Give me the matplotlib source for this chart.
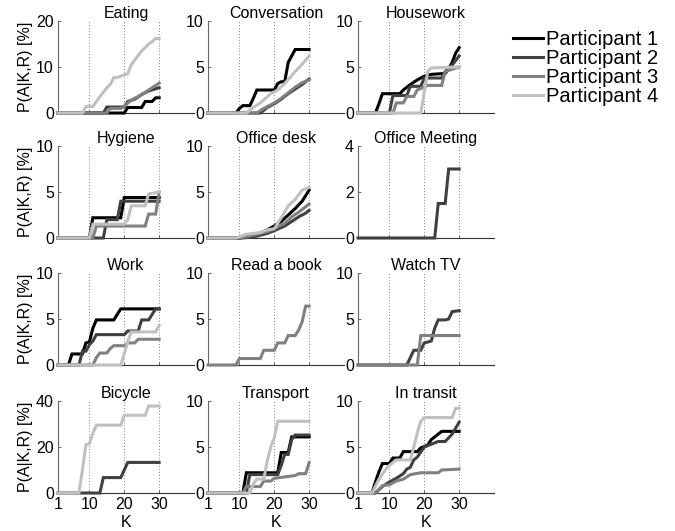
import matplotlib
matplotlib.use("Agg")
import matplotlib.pyplot as plt

plt.rcParams['font.family'] = ['Liberation Sans', 'DejaVu Sans']

participants = ["Participant 1", "Participant 2", "Participant 3", "Participant 4"]
colors = ["#000000", "#404040", "#808080", "#c0c0c0"]

titles = ["Eating", "Conversation", "Housework",
          "Hygiene", "Office desk", "Office Meeting",
          "Work", "Read a book", "Watch TV",
          "Bicycle", "Transport", "In transit"]
ymax = [20, 10, 10, 10, 10, 4, 10, 10, 10, 40, 10, 10]
xticks = [1, 10, 20, 30]

# Each series: (K vertices, P(A|K,R) values in %)
eating = {
    1: ([1, 20, 21, 25, 26, 28, 29, 30], [0, 0, 1.2, 1.2, 2.5, 2.5, 3.3, 3.3]),
    2: ([1, 14, 15, 20, 21, 23, 25, 27, 30], [0, 0, 1.3, 1.3, 2.5, 3.0, 4.0, 4.8, 5.5]),
    3: ([1, 15, 16, 19, 20, 22, 24, 26, 28, 30], [0, 0, 1.0, 1.0, 1.5, 2.8, 3.6, 4.5, 5.5, 6.5]),
    4: ([1, 8, 9, 11, 12, 13, 14, 15, 16, 17, 18, 19, 20, 21, 22, 23, 24, 25, 26, 27, 28, 29, 30],
        [0, 0, 1.4, 1.4, 2.5, 3.5, 4.5, 5.5, 6.2, 7.7, 7.7, 8.0, 8.3, 8.5, 10.5, 11.5, 12.5, 13.5, 14.2, 15.0, 15.5, 16.2, 16.2]),
}
conversation = {
    1: ([1, 9, 10, 11, 13, 14, 15, 20, 21, 22, 23, 24, 25, 26, 30],
        [0, 0, 0.5, 0.8, 0.8, 1.6, 2.5, 2.5, 3.2, 3.4, 3.4, 5.5, 6.2, 6.9, 6.9]),
    2: ([1, 16, 18, 20, 22, 24, 26, 28, 30], [0, 0, 0.6, 1.0, 1.5, 2.1, 2.6, 3.1, 3.7]),
    3: ([1, 15, 17, 20, 22, 24, 26, 28, 30], [0, 0, 0.5, 1.1, 1.6, 2.2, 2.8, 3.3, 3.6]),
    4: ([1, 12, 14, 16, 19, 21, 23, 26, 28, 30], [0, 0, 0.6, 1.1, 2.1, 2.5, 3.2, 4.5, 5.3, 6.2]),
}
housework = {
    1: ([1, 6, 7, 8, 13, 14, 16, 18, 20, 22, 26, 27, 28, 29, 30],
        [0, 0, 1.0, 2.1, 2.1, 2.5, 3.1, 3.6, 4.0, 4.2, 4.3, 4.8, 5.5, 6.5, 7.1]),
    2: ([1, 10, 11, 15, 16, 19, 20, 25, 26, 28, 30], [0, 0, 1.9, 1.9, 2.9, 2.9, 3.8, 3.8, 4.5, 5.2, 6.2]),
    3: ([1, 11, 12, 14, 15, 17, 18, 21, 25, 26, 30], [0, 0, 1.1, 1.1, 1.8, 1.8, 2.5, 3.0, 3.0, 4.5, 5.0]),
    4: ([1, 19, 21, 22, 30], [0, 0, 4.5, 4.9, 5.0]),
}
hygiene = {
    1: ([1, 10, 11, 19, 20, 30], [0, 0, 2.2, 2.2, 4.4, 4.4]),
    2: ([1, 14, 15, 18, 19, 30], [0, 0, 2.0, 2.0, 4.0, 4.0]),
    3: ([1, 11, 12, 26, 27, 29, 30], [0, 0, 1.3, 1.3, 2.6, 2.6, 5.0]),
    4: ([1, 10, 11, 20, 21, 22, 26, 27, 30], [0, 0, 1.5, 1.5, 2.0, 3.5, 3.5, 4.8, 5.0]),
}
office_desk = {
    1: ([1, 10, 14, 17, 20, 22, 24, 26, 28, 30], [0, 0, 0.3, 0.7, 1.3, 1.8, 2.5, 3.2, 4.0, 5.2]),
    2: ([1, 11, 15, 18, 20, 23, 25, 27, 29, 30], [0, 0, 0.2, 0.5, 0.8, 1.3, 1.8, 2.3, 2.7, 3.0]),
    3: ([1, 10, 14, 18, 20, 23, 25, 27, 29, 30], [0, 0, 0.3, 0.7, 1.0, 1.6, 2.3, 2.8, 3.4, 3.7]),
    4: ([1, 9, 12, 16, 18, 20, 22, 24, 26, 28, 30], [0, 0, 0.4, 0.6, 0.9, 1.0, 2.2, 3.5, 4.2, 5.2, 5.5]),
}
office_meeting = {
    2: ([1, 23, 24, 26, 27, 30], [0, 0, 1.5, 1.5, 3.0, 3.0]),
}
work = {
    1: ([1, 4, 5, 8, 9, 10, 11, 12, 17, 18, 19, 30], [0, 0, 1.2, 1.2, 2.4, 2.5, 4.0, 4.9, 4.9, 5.5, 6.1, 6.1]),
    2: ([1, 7, 8, 9, 10, 11, 12, 20, 21, 24, 25, 27, 28, 29, 30],
        [0, 0, 1.5, 1.5, 2.2, 2.6, 3.3, 3.3, 3.7, 3.7, 4.9, 4.9, 5.5, 6.1, 6.1]),
    3: ([1, 11, 12, 13, 15, 16, 17, 20, 21, 23, 24, 30], [0, 0, 0.8, 1.3, 1.3, 1.8, 2.1, 2.1, 2.4, 2.4, 2.8, 2.8]),
    4: ([1, 19, 20, 21, 22, 29, 30], [0, 0, 1.2, 2.5, 3.6, 3.6, 4.3]),
}
read_book = {
    3: ([1, 9, 10, 16, 17, 20, 21, 23, 24, 26, 27, 28, 29, 30],
        [0, 0, 0.7, 0.7, 1.6, 1.6, 2.4, 2.4, 3.2, 3.2, 3.8, 4.7, 6.4, 6.4]),
}
watch_tv = {
    2: ([1, 15, 17, 19, 20, 22, 23, 24, 26, 27, 28, 30], [0, 0, 1.6, 1.6, 2.4, 2.6, 4.0, 4.9, 4.9, 5.0, 5.8, 5.9]),
    3: ([1, 18, 19, 30], [0, 0, 3.2, 3.2]),
}
bicycle = {
    2: ([1, 13, 14, 19, 21, 30], [0, 0, 6.7, 6.7, 13.3, 13.3]),
    4: ([1, 7, 8, 9, 10, 11, 12, 19, 20, 26, 27, 30], [0, 0, 10, 21, 21.5, 26, 29.5, 29.5, 33.8, 33.8, 37.8, 37.8]),
}
transport = {
    1: ([1, 11, 12, 21, 22, 24, 25, 30], [0, 0, 2.2, 2.2, 4.4, 4.4, 6.1, 6.1]),
    2: ([1, 12, 13, 21, 22, 23, 24, 25, 26, 30], [0, 0, 2.0, 2.0, 3.0, 4.2, 4.2, 5.8, 6.3, 6.3]),
    3: ([1, 11, 12, 16, 17, 19, 20, 26, 27, 29, 30], [0, 0, 0.7, 0.7, 1.3, 1.3, 1.6, 1.9, 2.1, 2.1, 3.3]),
    4: ([1, 13, 14, 15, 17, 18, 19, 20, 21, 30], [0, 0, 1.0, 1.5, 1.5, 3.5, 5.0, 6.0, 7.8, 7.8]),
}
in_transit = {
    1: ([1, 5, 6, 7, 8, 10, 11, 13, 14, 18, 19, 21, 22, 24, 25, 30],
        [0, 0, 1.2, 2.3, 3.2, 3.2, 3.8, 3.8, 4.5, 4.5, 4.9, 5.2, 5.8, 6.4, 6.7, 6.7]),
    2: ([1, 6, 8, 10, 12, 14, 15, 16, 17, 18, 20, 22, 24, 26, 28, 30],
        [0, 0, 0.7, 1.2, 1.6, 2.1, 2.6, 2.8, 3.6, 3.9, 5.0, 5.3, 5.6, 5.6, 6.4, 7.7]),
    3: ([1, 6, 8, 10, 12, 14, 16, 19, 24, 25, 30], [0, 0, 0.8, 0.9, 1.3, 1.5, 2.0, 2.2, 2.2, 2.5, 2.6]),
    4: ([1, 5, 7, 9, 10, 12, 16, 17, 18, 19, 20, 28, 29, 30],
        [0, 0, 1.5, 2.6, 3.0, 3.6, 3.6, 5.0, 6.5, 7.8, 8.2, 8.2, 9.2, 9.2]),
}

panels = [eating, conversation, housework, hygiene, office_desk, office_meeting,
          work, read_book, watch_tv, bicycle, transport, in_transit]

W, H = 675, 531
fig = plt.figure(figsize=(W / 100, H / 100), dpi=100)

col_left = [58, 208, 358]
row_bottom = [113, 238, 365, 493]
ax_w, ax_h = 136, 92

handles = {}
for i, (title, data, ym) in enumerate(zip(titles, panels, ymax)):
    r, c = divmod(i, 3)
    ax = fig.add_axes([col_left[c] / W, 1 - row_bottom[r] / H, ax_w / W, ax_h / H])
    for p in (1, 2, 3, 4):
        if p in data:
            k, v = data[p]
            ln, = ax.plot(k, v, color=colors[p - 1], lw=2.2, solid_joinstyle='miter',
                          label=participants[p - 1], clip_on=False, zorder=2 + p)
            handles.setdefault(p, ln)
    ax.set_xlim(1, 40)
    ax.set_ylim(0, ym)
    ax.set_xticks(xticks)
    ax.set_yticks([0, ym / 2, ym])
    ax.set_yticklabels([f"{t:g}" for t in [0, ym / 2, ym]])
    ax.xaxis.grid(True, linestyle=(0, (1, 2.5)), color='#555555', lw=0.6)
    ax.set_axisbelow(True)
    for s in ('top', 'right'):
        ax.spines[s].set_visible(False)
    ax.spines['left'].set_color('#666666')
    ax.spines['bottom'].set_color('#333333')
    ax.spines['left'].set_linewidth(0.8)
    ax.spines['bottom'].set_linewidth(0.8)
    ax.tick_params(direction='in', length=2, width=0.5, labelsize=11.5, pad=3,
                   colors='#333333', labelcolor='black')
    if r < 3:
        ax.tick_params(axis='x', labelbottom=False)
    else:
        ax.set_xlabel("K", fontsize=11.5, labelpad=2)
    if c == 0:
        ax.set_ylabel("P(A|K,R) [%]", fontsize=11.5, labelpad=2)
    ax.set_title(title, fontsize=11.5, pad=1)

leg = fig.legend([handles[p] for p in (1, 2, 3, 4)], participants,
                 loc='upper left', bbox_to_anchor=(505 / W, 1 - 22 / H),
                 frameon=False, fontsize=14.5, labelspacing=0.0,
                 handlelength=1.5, handletextpad=0.15, borderaxespad=0)

fig.savefig("out.png", dpi=100)
